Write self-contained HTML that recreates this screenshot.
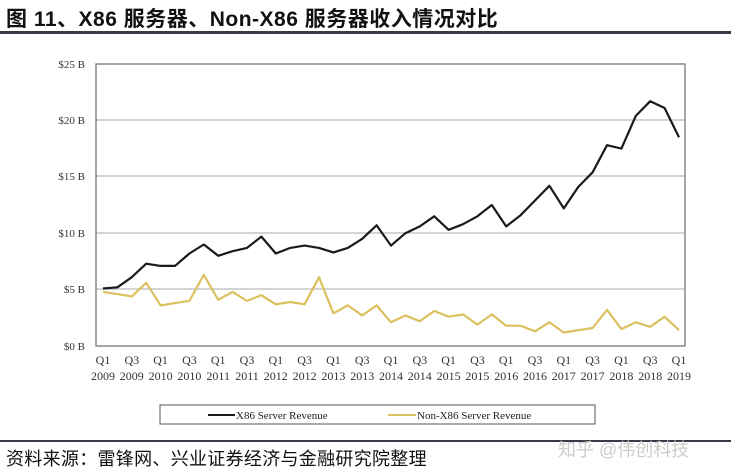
<!DOCTYPE html>
<html><head><meta charset="utf-8"><style>
body{margin:0;width:731px;height:475px;background:#fff;overflow:hidden;position:relative;font-family:"Liberation Sans","Noto Sans CJK SC",sans-serif}
.t{position:absolute;left:6px;top:3px;font-size:21px;font-weight:bold;color:#111;letter-spacing:0.5px}
.l1{position:absolute;left:0;top:31px;width:731px;height:3px;background:#3a3a46}
.l2{position:absolute;left:0;top:440px;width:731px;height:2px;background:#3a3a46}
.f{position:absolute;left:6px;top:445px;font-size:18px;color:#111;letter-spacing:0.3px}
.w{position:absolute;left:558px;top:436px;font-size:18px;color:#ccc}
</style></head><body>
<div class="t">图 11、X86 服务器、Non-X86 服务器收入情况对比</div>
<div class="l1"></div>
<svg width="731" height="475" style="position:absolute;left:0;top:0" font-family="Liberation Serif, serif">
<g stroke="#bbb" stroke-width="1.2">
<line x1="96" y1="120" x2="685" y2="120"/><line x1="96" y1="176" x2="685" y2="176"/><line x1="96" y1="233" x2="685" y2="233"/><line x1="96" y1="289" x2="685" y2="289"/>
</g>
<rect x="96" y="64" width="589" height="282" fill="none" stroke="#777" stroke-width="1.3"/>
<g font-size="11" fill="#333" text-anchor="end">
<text x="85" y="68">$25 B</text><text x="85" y="124">$20 B</text><text x="85" y="180">$15 B</text><text x="85" y="237">$10 B</text><text x="85" y="293">$5 B</text><text x="85" y="350">$0 B</text>
</g>
<g id="xl" font-size="12" fill="#333" text-anchor="middle"></g>
<polyline id="b" fill="none" stroke="#1a1a1a" stroke-width="2.2" stroke-linejoin="round"/>
<polyline id="g" fill="none" stroke="#dcc060" stroke-width="2.2" stroke-linejoin="round"/>
<rect x="160" y="405" width="435" height="19" fill="#fff" stroke="#555" stroke-width="1"/>
<line x1="208" y1="415" x2="235" y2="415" stroke="#1a1a1a" stroke-width="2"/>
<text x="236" y="419" font-size="11" fill="#222">X86 Server Revenue</text>
<line x1="388" y1="415" x2="416" y2="415" stroke="#dcc060" stroke-width="2"/>
<text x="417" y="419" font-size="11" fill="#222">Non-X86 Server Revenue</text>
</svg>
<div class="l2"></div>
<div class="f">资料来源：雷锋网、兴业证券经济与金融研究院整理</div>
<div class="w">知乎 @伟创科技</div>
<script>
var B=[5.1,5.2,6.1,7.3,7.1,7.1,8.2,9.0,8.0,8.4,8.7,9.7,8.2,8.7,8.9,8.7,8.3,8.7,9.5,10.7,8.9,10.0,10.6,11.5,10.3,10.8,11.5,12.5,10.6,11.6,12.9,14.2,12.2,14.1,15.4,17.8,17.5,20.4,21.7,21.1,18.5];
var G=[4.8,4.6,4.4,5.6,3.6,3.8,4.0,6.3,4.1,4.8,4.0,4.5,3.7,3.9,3.7,6.1,2.9,3.6,2.7,3.6,2.1,2.7,2.2,3.1,2.6,2.8,1.9,2.8,1.8,1.8,1.3,2.1,1.2,1.4,1.6,3.2,1.5,2.1,1.7,2.6,1.4];
function p(a){return a.map(function(v,i){return (103+i*14.4).toFixed(1)+","+(346-v*11.28).toFixed(1)}).join(" ")}
document.getElementById("b").setAttribute("points",p(B));
document.getElementById("g").setAttribute("points",p(G));
var s="";for(var i=0;i<=20;i++){var x=103+i*28.8;var y=2009+Math.floor(i/2);s+='<text x="'+x+'" y="364">'+(i%2?"Q3":"Q1")+'</text><text x="'+x+'" y="380">'+y+'</text>';}
document.getElementById("xl").innerHTML=s;
</script>
</body></html>
